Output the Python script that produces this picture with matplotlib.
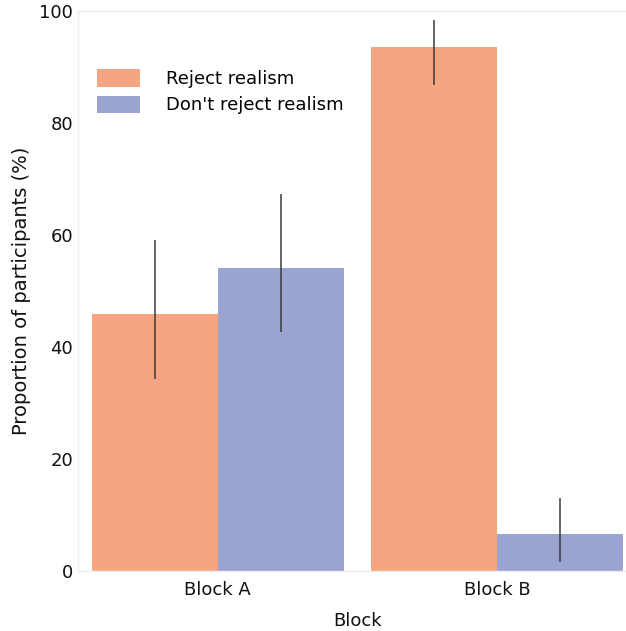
import matplotlib
matplotlib.use("Agg")
import matplotlib.pyplot as plt
import numpy as np

blocks = ["Block A", "Block B"]
series = ["Reject realism", "Don't reject realism"]
reject = [45.9, 93.45]
dont_reject = [54.1, 6.55]
reject_lo = [34.3, 86.8]
reject_hi = [59.1, 98.4]
dont_lo = [42.6, 1.55]
dont_hi = [67.3, 13.1]
colors = ["#F5A582", "#99A4D0"]

plt.rcParams['font.family'] = ['DejaVu Sans']
fig = plt.figure(figsize=(6.26, 6.31), dpi=100)
ax = fig.add_axes([78/626, (631-571)/631, (637-78)/626, (571-10.6)/631])

x = np.arange(len(blocks))
w = 0.45
vals = [reject, dont_reject]
los = [reject_lo, dont_lo]
his = [reject_hi, dont_hi]
offs = [-w/2, w/2]
for i in range(2):
    ax.bar(x + offs[i], vals[i], width=w, color=colors[i], label=series[i], zorder=2)
    ax.vlines(x + offs[i], los[i], his[i], color="#3a3a3a", linewidth=1.1, zorder=3)

ax.set_xlim(-0.5, 1.5)
ax.set_ylim(0, 100)
ax.set_yticks([0, 20, 40, 60, 80, 100])
ax.set_xticks(x)
ax.set_xticklabels(blocks)
ax.tick_params(length=0, labelsize=13, colors="#111111")
ax.tick_params(axis="y", pad=3.5)
ax.tick_params(axis="x", pad=7.5)
for s in ax.spines.values():
    s.set_color("#eeeeee")
    s.set_linewidth(1)
ax.set_xlabel("Block", fontsize=13, labelpad=9, color="#111111")
ax.set_ylabel("Proportion of participants (%)", fontsize=14, labelpad=6, color="#111111")
ax.legend(loc="upper left", bbox_to_anchor=(90/626, 1 - 62/631), bbox_transform=fig.transFigure,
          borderaxespad=0, frameon=False, fontsize=13,
          handlelength=2.38, handleheight=1.1, handletextpad=1.44, labelspacing=0.42)

fig.savefig("out.png", dpi=100)
